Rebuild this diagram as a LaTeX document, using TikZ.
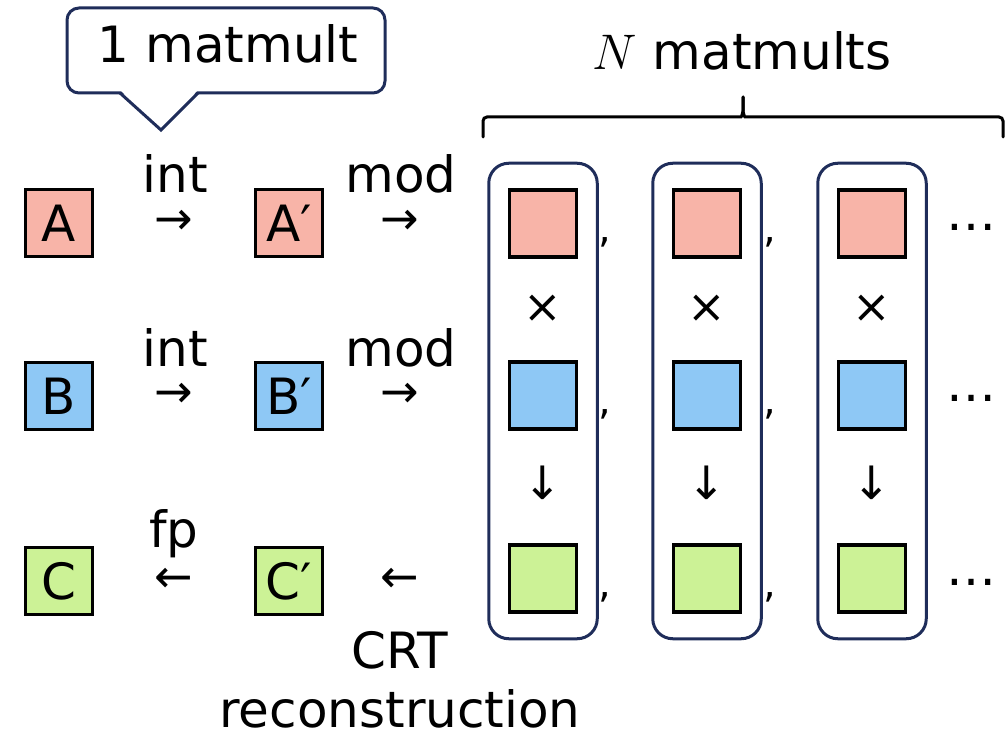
\documentclass[tikz,border=0pt]{standalone}
\usepackage{fix-cm}
\usepackage{fontspec}
\setmainfont{DejaVu Sans}
\usetikzlibrary{positioning,fit,calc}
\definecolor{matA}{RGB}{248,180,168}
\definecolor{matB}{RGB}{142,200,245}
\definecolor{matC}{RGB}{204,242,150}
\definecolor{navy}{RGB}{31,45,90}
\newcommand{\txtfont}{\fontsize{50}{60}\selectfont}
\newcommand{\symfont}{\fontsize{46}{54}\selectfont}
\newcommand{\cmafont}{\fontsize{40}{48}\selectfont}
\tikzset{
  mat/.style   ={draw=black,line width=3.5pt,minimum size=67pt,inner sep=0pt,font=\txtfont},
  mata/.style  ={mat,fill=matA},
  matb/.style  ={mat,fill=matB},
  matc/.style  ={mat,fill=matC},
  lbl/.style   ={inner sep=0pt,font=\txtfont,anchor=base},
  sym/.style   ={inner sep=0pt,font=\symfont},
  punct/.style ={inner sep=0pt,font=\txtfont},
  cma/.style   ={inner sep=0pt,font=\cmafont},
  grp/.style   ={draw=navy,line width=3pt,rounded corners=20pt,inner xsep=19pt,inner ysep=25pt},
  bubble/.style={draw=navy,line width=3pt,rounded corners=12pt,minimum width=318pt,
                 minimum height=85pt,fill=white},
  brace/.style ={line width=3pt,rounded corners=4pt,line cap=round},
}

\begin{document}
\begin{tikzpicture}[x=1pt,y=-1pt]
\useasboundingbox (0,0) rectangle (1006,735);

% callout over the conversion step
\node[bubble] (one) at (226,50.5) {};
\node[lbl] (onelbl) at (228,63) {1 matmult};
\coordinate (pl) at (120,93);
\coordinate (pr) at (198,93);
\coordinate (tip) at (161,130);
\fill[white] ([yshift=3pt]pl) -- (tip) -- ([yshift=3pt]pr) -- cycle;
\draw[navy,line width=3pt,line join=miter] (pl) -- (tip) -- (pr);

% input, integer and output matrices
\node[mata] (A) at (59,223) {A};
\node[mata] (A2) at (289,223) {A′};
\node[matb] (B) at (59,396) {B};
\node[matb] (B2) at (289,396) {B′};
\node[matc] (C) at (59,581) {C};
\node[matc] (C2) at (289,581) {C′};

\node[lbl] (intA) at (175,193) {int};
\node[sym] (toA) at (174,222) {→};
\node[lbl] (modA) at (401,193) {mod};
\node[sym] (modtoA) at (400,222) {→};
\node[lbl] (intB) at (175,366) {int};
\node[sym] (toB) at (174,395) {→};
\node[lbl] (modB) at (401,366) {mod};
\node[sym] (modtoB) at (400,395) {→};
\node[lbl] (fpC) at (174,547) {fp};
\node[sym] (toC) at (174,580) {←};
\node[sym] (crttoC) at (400,580) {←};
\node[lbl] (crt) at (400,668) {CRT};
\node[lbl] (recon) at (400,727) {reconstruction};

% one column per modulus
\foreach \i/\x in {1/543,2/707,3/872} {
  \node[mata] (a\i) at (\x,223.5) {};
  \node[sym] (times\i) at (\x,309) {×};
  \node[matb] (b\i) at (\x,395.5) {};
  \node[sym] (down\i) at (\x,483) {↓};
  \node[matc] (c\i) at (\x,578.5) {};
  \node[grp,fit=(a\i)(c\i)] (col\i) {};
}
\foreach \i/\x in {1/605,2/770} {
  \node[cma] (commaA\i) at (\x,242) {,};
  \node[cma] (commaB\i) at (\x,414) {,};
  \node[cma] (commaC\i) at (\x,597) {,};
}
\node[punct] (dotsA) at (971,227) {…};
\node[punct] (dotsB) at (971,398) {…};
\node[punct] (dotsC) at (971,582) {…};

% brace over the columns
\coordinate (brL) at (483,137);
\coordinate (brR) at (1003,137);
\coordinate (brT) at (743,97);
\draw[brace] (brL) |- ([xshift=-6pt,yshift=-20pt]brT) to[out=0,in=-90] ([yshift=-10pt]brT) -- (brT);
\draw[brace] (brR) |- ([xshift=6pt,yshift=-20pt]brT) to[out=180,in=-90] ([yshift=-10pt]brT) -- (brT);
\node[lbl] (nmat) at (742,70) {$N$ matmults};
\end{tikzpicture}
\end{document}
